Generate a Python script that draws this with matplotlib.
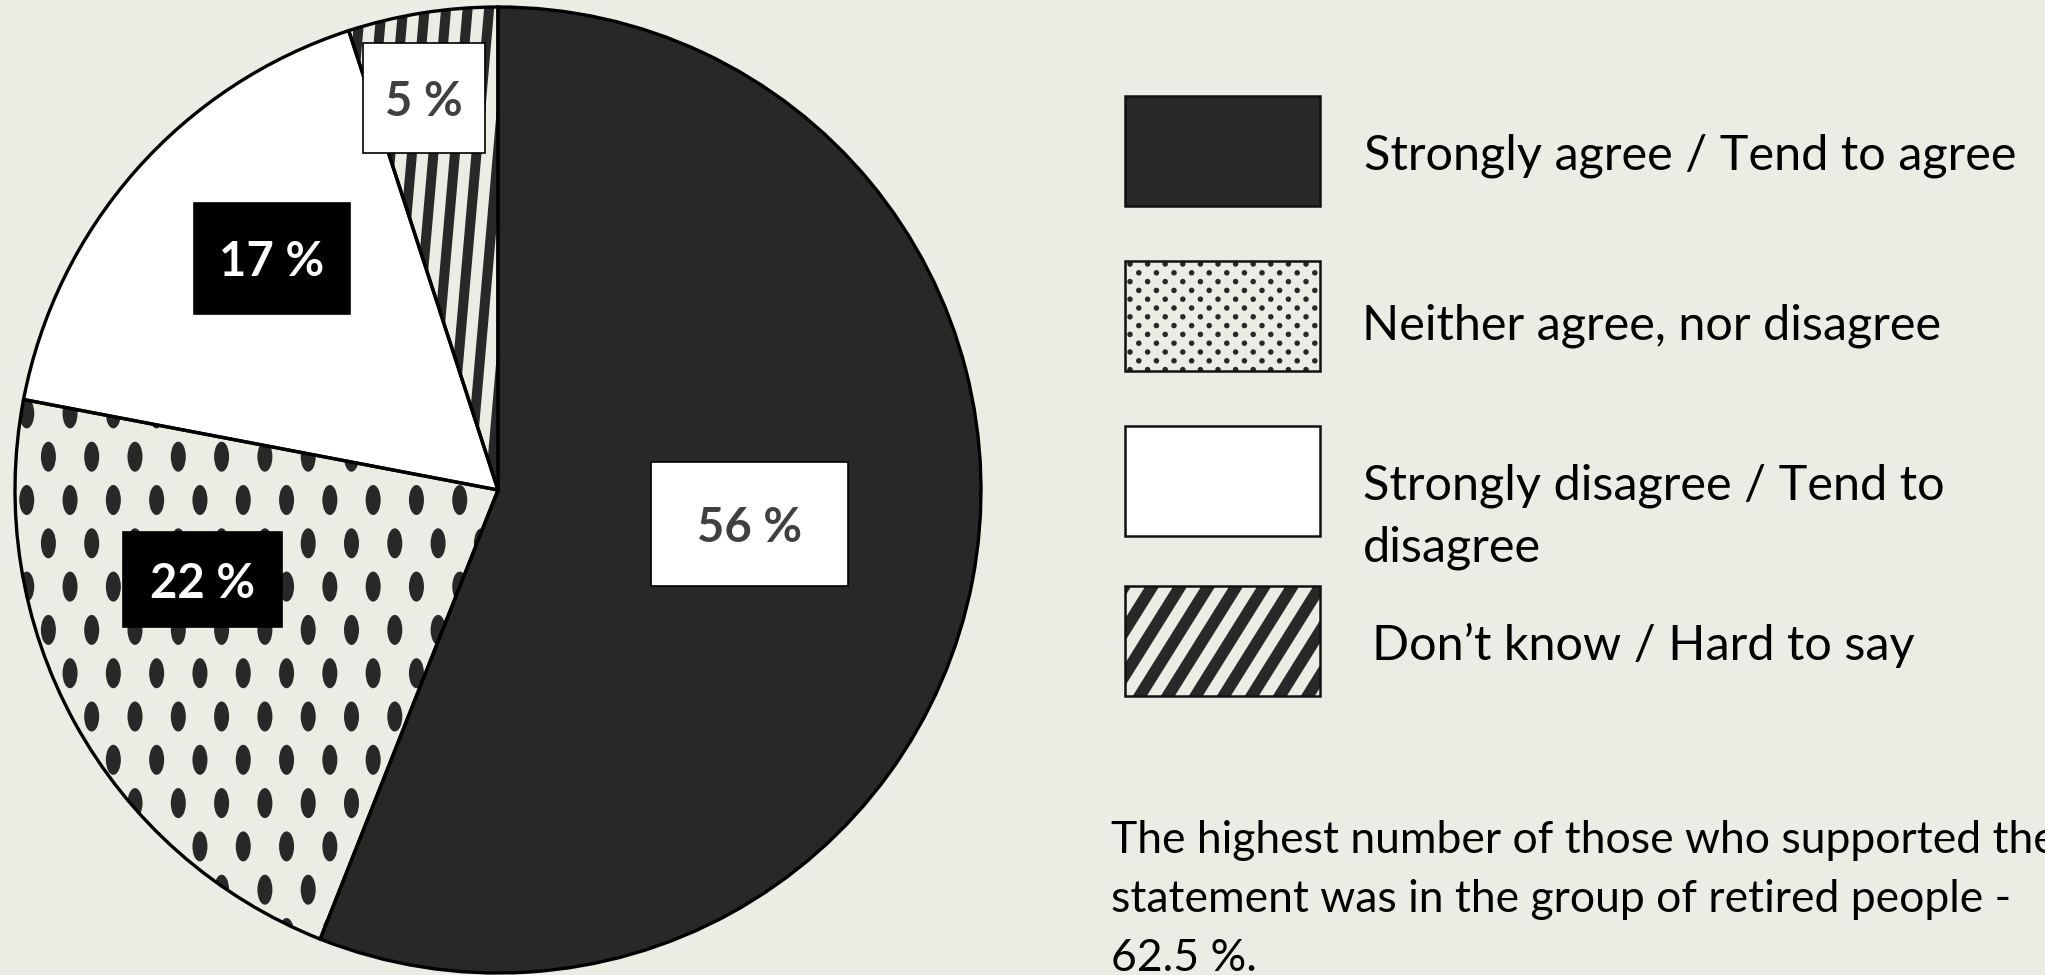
import numpy as np
import matplotlib.pyplot as plt
from matplotlib.patches import Rectangle, Wedge
from matplotlib.collections import EllipseCollection, LineCollection

plt.rcParams['font.family'] = ['Lato', 'DejaVu Sans']


# Data ........................................................................

categories = ["Strongly agree / Tend to agree",
              "Neither agree, nor disagree",
              "Strongly disagree / Tend to\ndisagree",
              "Don\u2019t know / Hard to say"]
shares = [56, 22, 17, 5]
share_labels = [f"{v} %" for v in shares]
note_lines = ["The highest number of those who supported the",
              "statement was in the group of retired people -",
              "62.5 %."]


# Style .......................................................................

BG = '#ECEBE4'
DARK = '#282828'
fills = [DARK, BG, 'white', BG]
patterns = [None, 'dots', None, 'stripes']

# pie geometry in pixels (y grows downwards)
cx, cy, R = 498, 490, 483

# data labels: radius fraction, angle nudge, box size, dark box?
label_r = [0.526, 0.64, 0.67, 0.826]
label_nudge = [-3.1, 11.9, 4.3, -1.7]
box_size = [(197, 124), (159, 95), (156, 111), (122, 110)]
box_dark = [False, True, True, False]

# legend layout (text_base = baseline of the last line of each label)
sw_x, sw_w, sw_h = 1125, 195, 110
sw_top = [96, 261, 426, 586]
text_x = [1364, 1362, 1363, 1372]
text_base = [170, 339, 561, 660]


# Helpers .....................................................................

def dot_pattern(clip, x0, y0, sx, sy, w, h, xr, yr):
    # staggered dot lattice clipped to a patch
    pts = []
    for k in range(int((yr[0] - y0) // sy) - 1, int((yr[1] - y0) // sy) + 2):
        off = 0 if k % 2 == 0 else -sx / 2
        for j in range(int((xr[0] - x0) // sx) - 1, int((xr[1] - x0) // sx) + 2):
            pts.append((x0 + off + j * sx, y0 + k * sy))
    ec = EllipseCollection(w, h, 0, units='xy', offsets=pts,
                           offset_transform=ax.transData,
                           facecolors=DARK, edgecolors='none', zorder=2)
    ax.add_collection(ec)
    ec.set_clip_path(clip)


def stripe_pattern(clip, x0, y0, period, angle, lw, xr, yr):
    # parallel stripes through (x0 + k*period, y0), angle from horizontal
    dx = np.cos(np.radians(angle))
    dy = -np.sin(np.radians(angle))
    L = 2000
    n = int((xr[1] - xr[0]) / period) + 40
    segs = []
    for k in range(-n, n):
        x = x0 + k * period
        segs.append([(x - L * dx, y0 - L * dy), (x + L * dx, y0 + L * dy)])
    lc = LineCollection(segs, linewidths=lw, colors=DARK, capstyle='butt', zorder=2)
    ax.add_collection(lc)
    lc.set_clip_path(clip)


# Figure ......................................................................

fig = plt.figure(figsize=(20.45, 9.75), dpi=100, facecolor=BG)
ax = fig.add_axes([0, 0, 1, 1])
ax.set_facecolor(BG)

wedges, _ = ax.pie(shares, colors=fills, startangle=-90, counterclock=True,
                   center=(cx, cy), radius=R, wedgeprops=dict(linewidth=0))
ax.set_xlim(0, 2045)
ax.set_ylim(975, 0)
ax.set_aspect('equal')
ax.axis('off')

# patterns inside the wedges
for w, p in zip(wedges, patterns):
    if p == 'dots':
        dot_pattern(w, 91.7, 456.7, 43.3, 43.3, 15, 30, (0, cx + 50), (cy - 50, 975))
    elif p == 'stripes':
        stripe_pattern(w, 412, 153, 21.5, 85, 7.2, (300, 520), (0, 500))

# wedge outlines
for w in wedges:
    ax.add_patch(Wedge((cx, cy), R, w.theta1, w.theta2, fill=False,
                       ec='black', lw=2.4, zorder=3))

# data labels
for w, txt, rf, nd, (bw, bh), dark in zip(wedges, share_labels, label_r,
                                          label_nudge, box_size, box_dark):
    a = np.radians((w.theta1 + w.theta2) / 2 + nd)
    x = cx + rf * R * np.cos(a)
    y = cy + rf * R * np.sin(a)
    ax.add_patch(Rectangle((x - bw / 2, y - bh / 2), bw, bh,
                           fc='black' if dark else 'white',
                           ec='black', lw=1.2, zorder=4))
    ax.text(x, y, txt, ha='center', va='center_baseline', fontsize=34,
            fontweight='bold', color='white' if dark else '#404040', zorder=5)

# legend
for i, (lab, fc, p) in enumerate(zip(categories, fills, patterns)):
    top = sw_top[i]
    sw = Rectangle((sw_x, top), sw_w, sw_h, fc=fc, ec='none', zorder=1)
    ax.add_patch(sw)
    if p == 'dots':
        dot_pattern(sw, 1130, 264, 17.6, 8.8, 5.5, 5.5,
                    (sw_x, sw_x + sw_w), (top, top + sw_h))
    elif p == 'stripes':
        stripe_pattern(sw, 1141, 694, 28, 58, 8.6,
                       (sw_x - 200, sw_x + sw_w + 200), (top, top + sw_h))
    ax.add_patch(Rectangle((sw_x, top), sw_w, sw_h, fill=False,
                           ec='#111111', lw=1.8, zorder=3))
    ax.text(text_x[i], text_base[i], lab, ha='left', va='baseline',
            fontsize=35, color='black', linespacing=1.47)

# note (baseline of its last line)
ax.text(1111, 971, "\n".join(note_lines), ha='left', va='baseline',
        fontsize=32, color='black', linespacing=1.55)

fig.savefig("out.png", dpi=100, facecolor=BG)
